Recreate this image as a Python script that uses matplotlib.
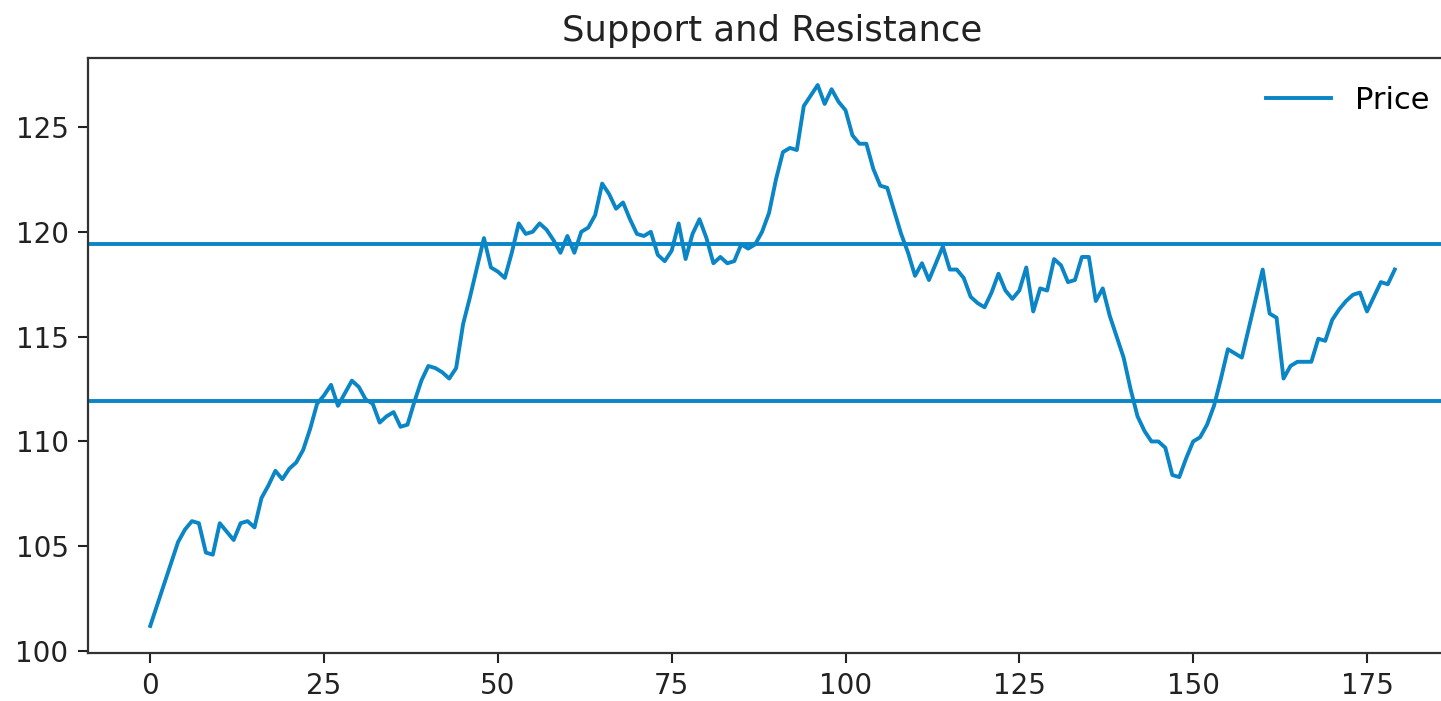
import matplotlib
matplotlib.use("Agg")
import matplotlib.pyplot as plt
import numpy as np

price = [
    101.2, 102.2, 103.2, 104.2, 105.2, 105.8, 106.2, 106.1, 104.7, 104.6,
    106.1, 105.7, 105.3, 106.1, 106.2, 105.9, 107.3, 107.9, 108.6, 108.2,
    108.7, 109.0, 109.6, 110.6, 111.8, 112.2, 112.7, 111.7, 112.3, 112.9,
    112.6, 112.0, 111.8, 110.9, 111.2, 111.4, 110.7, 110.8, 111.9, 112.9,
    113.6, 113.5, 113.3, 113.0, 113.5, 115.6, 116.9, 118.3, 119.7, 118.3,
    118.1, 117.8, 119.0, 120.4, 119.9, 120.0, 120.4, 120.1, 119.6, 119.0,
    119.8, 119.0, 120.0, 120.2, 120.8, 122.3, 121.8, 121.1, 121.4, 120.6,
    119.9, 119.8, 120.0, 118.9, 118.6, 119.1, 120.4, 118.7, 119.9, 120.6,
    119.7, 118.5, 118.8, 118.5, 118.6, 119.4, 119.2, 119.4, 120.0, 120.9,
    122.5, 123.8, 124.0, 123.9, 126.0, 126.5, 127.0, 126.1, 126.8, 126.2,
    125.8, 124.6, 124.2, 124.2, 123.0, 122.2, 122.1, 121.0, 119.9, 119.0,
    117.9, 118.5, 117.7, 118.5, 119.3, 118.2, 118.2, 117.8, 116.9, 116.6,
    116.4, 117.1, 118.0, 117.2, 116.8, 117.2, 118.3, 116.2, 117.3, 117.2,
    118.7, 118.4, 117.6, 117.7, 118.8, 118.8, 116.7, 117.3, 116.0, 115.0,
    114.0, 112.5, 111.2, 110.5, 110.0, 110.0, 109.7, 108.4, 108.3, 109.2,
    110.0, 110.2, 110.8, 111.7, 113.0, 114.4, 114.2, 114.0, 115.4, 116.8,
    118.2, 116.1, 115.9, 113.0, 113.6, 113.8, 113.8, 113.8, 114.9, 114.8,
    115.8, 116.3, 116.7, 117.0, 117.1, 116.2, 116.9, 117.6, 117.5, 118.2,
]
support = 111.95
resistance = 119.43
series_label = "Price"
title = "Support and Resistance"

color = "#0a85c6"

fig = plt.figure(figsize=(14.41, 7.01), dpi=100)
ax = fig.add_axes([88 / 1441, 48 / 701, (1457 - 88) / 1441, (653 - 58) / 701])
x = np.arange(len(price))
ax.plot(x, price, color=color, linewidth=2.8, label=series_label)
ax.axhline(support, color=color, linewidth=2.8)
ax.axhline(resistance, color=color, linewidth=2.8)

ax.set_title(title, fontsize=25.5, pad=12, color="#222222")
ax.tick_params(labelsize=20, length=7, width=1.5, pad=7, colors="#222222")
for s in ax.spines.values():
    s.set_linewidth(1.6)
    s.set_color("#333333")
ax.legend(loc="upper right", frameon=False, fontsize=22, handlelength=2.1,
          borderaxespad=0.5)

fig.savefig("out.png", dpi=100)
